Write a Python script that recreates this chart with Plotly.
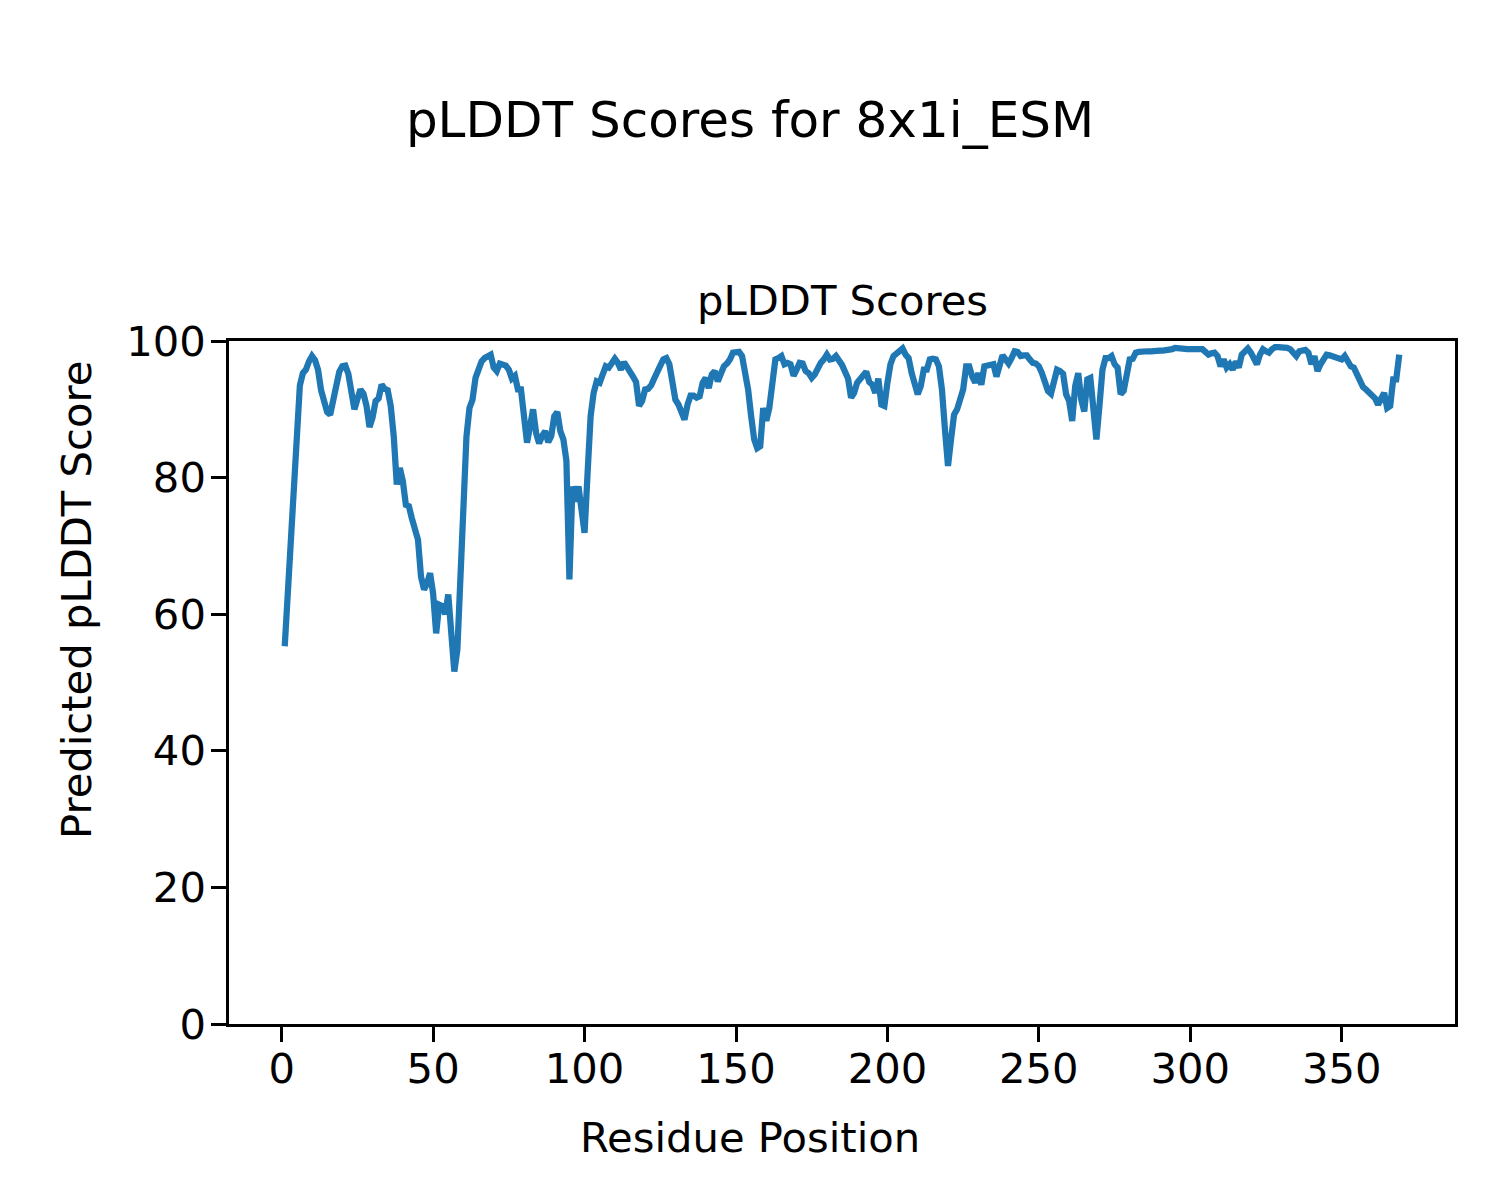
import plotly.graph_objects as go

residues = list(range(1, 370))

plddt = [
    55.3, 63.5, 70.5, 78.0, 87.5, 93.5, 95.3, 95.8, 97.0, 97.8,
    97.2, 95.8, 92.8, 91.2, 89.6, 89.2, 91.5, 94.0, 95.5, 96.3,
    96.4, 95.2, 93.0, 90.0, 91.5, 92.9, 92.3, 90.5, 87.4, 88.8,
    91.2, 91.6, 93.6, 93.0, 92.8, 90.5, 86.0, 79.0, 81.4, 79.5,
    76.0, 75.8, 74.0, 71.9, 70.9, 65.5, 63.6, 64.5, 66.0, 63.0,
    57.2, 61.4, 61.2, 60.0, 62.9, 57.2, 51.6, 54.8, 67.0, 78.5,
    86.0, 90.2, 91.4, 94.6, 95.8, 97.0, 97.5, 97.8, 98.0, 96.1,
    95.6, 96.7, 96.5, 96.4, 95.8, 94.5, 94.9, 92.9, 92.9, 89.0,
    85.1, 87.5, 90.0, 86.5, 85.0, 86.1, 86.8, 85.2, 86.1, 89.0,
    89.6, 86.8, 85.6, 82.5, 65.1, 78.7, 76.5, 78.7, 74.8, 71.9,
    80.7, 89.0, 92.4, 94.1, 93.9, 94.9, 96.3, 96.1, 96.8, 97.4,
    96.8, 95.8, 96.9, 96.3, 95.5, 94.8, 94.0, 90.5, 91.2, 92.9,
    93.0, 93.5, 94.5, 95.8, 96.4, 97.3, 97.5, 96.6, 93.9, 91.4,
    90.7, 89.5, 88.5, 90.7, 92.0, 92.0, 91.7, 91.9, 93.9, 94.6,
    93.1, 95.1, 95.6, 94.1, 95.3, 96.3, 96.7, 97.3, 98.3, 98.4,
    98.4, 97.8, 95.6, 92.9, 89.0, 85.6, 84.3, 84.6, 90.2, 88.3,
    90.2, 94.4, 97.3, 97.5, 97.8, 96.6, 96.8, 96.6, 94.9, 95.8,
    96.8, 96.7, 95.6, 95.3, 94.6, 95.1, 96.1, 96.8, 97.3, 98.0,
    97.3, 97.4, 97.8, 97.2, 96.5, 95.5, 94.5, 91.7, 92.4, 93.9,
    94.4, 94.8, 95.5, 94.0, 93.6, 92.4, 94.5, 90.7, 90.5, 93.9,
    96.6, 97.8, 98.2, 98.5, 98.9, 98.0, 97.5, 95.3, 93.4, 92.2,
    93.4, 95.8, 95.8, 97.3, 97.4, 97.3, 96.3, 92.9, 87.0, 81.7,
    85.6, 89.2, 90.0, 91.9, 92.9, 96.3, 96.3, 94.8, 93.9, 95.3,
    93.6, 96.3, 96.4, 96.6, 96.6, 94.8, 96.3, 97.9, 97.3, 96.7,
    97.5, 98.5, 98.4, 97.8, 97.9, 97.9, 97.3, 96.8, 96.7, 96.3,
    95.3, 93.6, 92.7, 92.3, 94.1, 95.8, 95.6, 95.2, 92.2, 91.2,
    88.3, 93.4, 95.3, 91.4, 89.7, 94.4, 94.6, 90.5, 85.6, 90.5,
    95.8, 97.5, 97.5, 97.8, 96.6, 96.1, 92.2, 92.7, 95.3, 97.3,
    97.4, 98.3, 98.4, 98.5, 98.5, 98.5, 98.5, 98.6, 98.5, 98.6,
    98.6, 98.6, 98.7, 98.8, 99.0, 98.9, 98.9, 98.9, 98.8,
    98.8, 98.8, 98.7, 98.6, 98.8, 98.4, 98.0, 98.2, 98.3, 97.8,
    96.3, 97.3, 96.1, 96.6, 95.8, 97.0, 96.1, 98.0, 98.5, 98.9,
    98.3, 97.2, 96.6, 98.0, 98.8, 98.5, 98.3, 98.8, 99.1, 99.1,
    99.1, 99.0, 99.0, 98.8, 98.3, 97.8, 98.5, 98.6, 98.7, 98.3,
    96.6, 97.8, 95.6, 96.6, 97.5, 98.0, 97.9, 97.8, 97.5, 97.4,
    97.3, 97.8, 96.8, 96.3, 96.1, 95.2, 94.0, 93.3, 92.9, 92.5,
    92.2, 91.6, 90.7, 91.5, 92.4, 90.2, 90.5, 94.4, 94.4, 98.0,
]

x_ticks = [0, 50, 100, 150, 200, 250, 300, 350]
y_ticks = [0, 20, 40, 60, 80, 100]

suptitle = "pLDDT Scores for 8x1i_ESM"
ax_title = "pLDDT Scores"
x_label = "Residue Position"
y_label = "Predicted pLDDT Score"

FONT = "DejaVu Sans"

fig = go.Figure()
fig.add_trace(go.Scatter(
    x=residues[:len(plddt)], y=plddt, mode="lines",
    line=dict(color="#1f77b4", width=6.25),
    showlegend=False,
))

axis_common = dict(
    showgrid=False, zeroline=False, showline=True, mirror=True,
    linecolor="black", linewidth=3.3, ticks="outside", ticklen=14.6,
    tickwidth=3.3, tickcolor="black",
    tickfont=dict(family=FONT, size=41.7, color="black"),
)

fig.update_xaxes(range=[-17.4, 387.4], tickvals=x_ticks,
                 ticktext=[str(v) for v in x_ticks], ticklabelstandoff=-9,
                 **axis_common)
fig.update_yaxes(range=[0, 100], tickvals=y_ticks,
                 ticktext=[str(v) for v in y_ticks], ticklabelstandoff=-3,
                 **axis_common)

# page body has an 8px offset; compensate so the plot area lands at
# x 229..1455, y 341..1024 in the screenshot
fig.update_layout(
    width=1500, height=1200,
    margin=dict(l=221, r=53, t=333, b=184, pad=0),
    plot_bgcolor="white", paper_bgcolor="white",
    font=dict(family=FONT, color="black"),
    title=dict(text=suptitle, x=742 / 1500, xanchor="center", xref="container",
               y=1 - 111 / 1200, yanchor="middle", yref="container",
               font=dict(family=FONT, size=50, color="black")),
    annotations=[
        dict(text=ax_title, xref="paper", yref="paper", x=0.5, y=1,
             xanchor="center", yanchor="bottom", yshift=14, showarrow=False,
             font=dict(family=FONT, size=41.7, color="black")),
        dict(text=x_label, xref="paper", yref="paper",
             x=(750 - 229) / 1226, y=(1024 - 1137) / 683,
             xanchor="center", yanchor="middle", showarrow=False,
             font=dict(family=FONT, size=41.7, color="black")),
        dict(text=y_label, xref="paper", yref="paper",
             x=(76 - 229) / 1226, y=(1024 - 600) / 683, textangle=-90,
             xanchor="center", yanchor="middle", showarrow=False,
             font=dict(family=FONT, size=41.7, color="black")),
    ],
)

fig.write_html("out.html")
